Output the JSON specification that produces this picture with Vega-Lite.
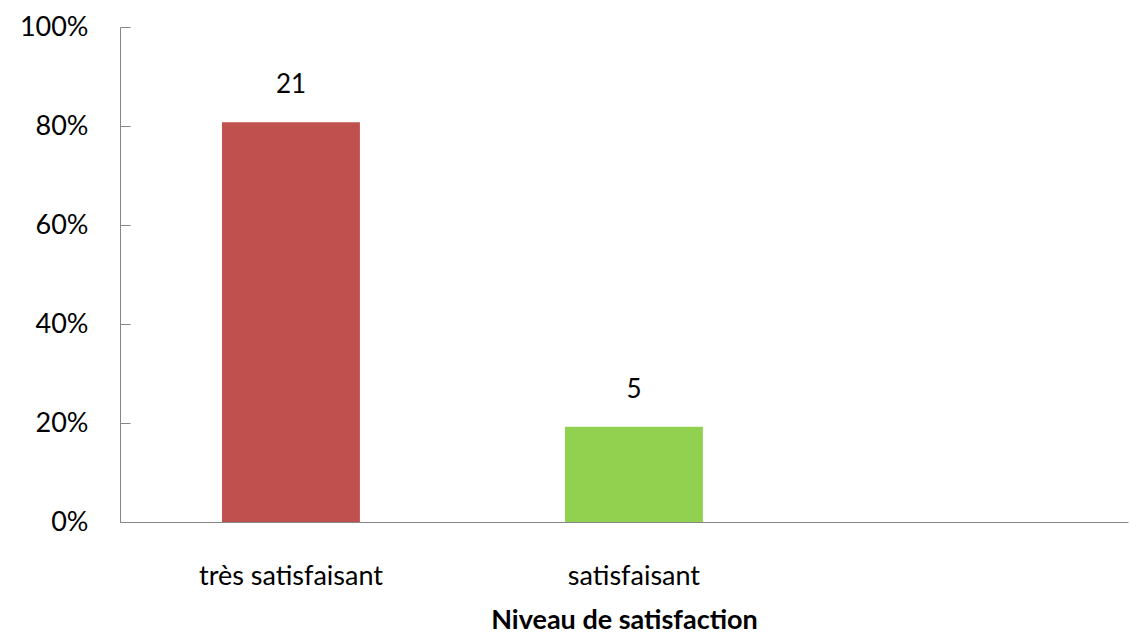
{
  "$schema": "https://vega.github.io/schema/vega-lite/v6.json",
  "autosize": {"type": "none"},
  "padding": {"left": 120, "top": 27, "right": 18, "bottom": 115},
  "width": 1008,
  "height": 495,
  "background": "white",
  "config": {
    "view": {"stroke": null},
    "font": "Lato",
    "axis": {"grid": false, "domainColor": "#868686", "tickColor": "#868686", "labelFont": "Lato", "titleFont": "Lato", "labelColor": "#000000", "titleColor": "#000000"}
  },
  "data": {
    "values": [
      {"niveau": "très satisfaisant", "n": 21, "pct": 0.8077},
      {"niveau": "satisfaisant", "n": 5, "pct": 0.1923}
    ]
  },
  "encoding": {
    "x": {
      "field": "niveau", "type": "nominal", "sort": null,
      "scale": {"domain": ["très satisfaisant", "satisfaisant", " "], "paddingInner": 0.598, "paddingOuter": 0.2685, "align": 0.554},
      "axis": {"title": "Niveau de satisfaction", "labelAngle": 0, "labelFontSize": 27, "labelPadding": 41, "labelLimit": 0, "ticks": false, "titleFontSize": 27, "titleFontWeight": "bold", "titlePadding": 18}
    },
    "y": {
      "field": "pct", "type": "quantitative",
      "scale": {"domain": [0, 1]},
      "axis": {"title": null, "format": ".0%", "values": [0, 0.2, 0.4, 0.6, 0.8, 1], "labelFontSize": 27, "tickSize": -10, "labelPadding": 42}
    }
  },
  "layer": [
    {
      "mark": {"type": "bar"},
      "encoding": {
        "color": {"field": "niveau", "type": "nominal", "scale": {"domain": ["très satisfaisant", "satisfaisant"], "range": ["#C0504D", "#92D050"]}, "legend": null}
      }
    },
    {
      "mark": {"type": "text", "dy": -37, "fontSize": 26, "color": "#000000"},
      "encoding": {"text": {"field": "n", "type": "quantitative"}}
    }
  ]
}
